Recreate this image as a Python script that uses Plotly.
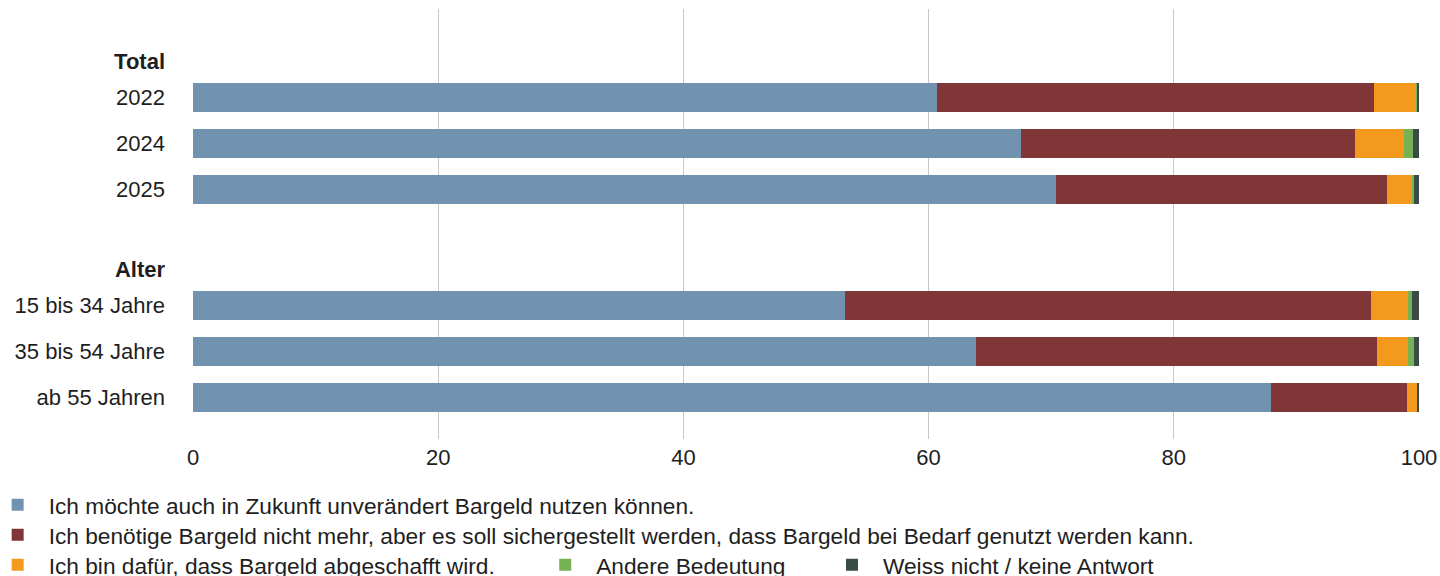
import plotly.graph_objects as go

# Row labels, grouped under bold headers
group_titles = ["Total", "Alter"]
total_rows = ["2022", "2024", "2025"]
age_rows = ["15 bis 34 Jahre", "35 bis 54 Jahre", "ab 55 Jahren"]

# Answer options (legend text)
answers = [
    "Ich möchte auch in Zukunft unverändert Bargeld nutzen können.",
    "Ich benötige Bargeld nicht mehr, aber es soll sichergestellt werden, dass Bargeld bei Bedarf genutzt werden kann.",
    "Ich bin dafür, dass Bargeld abgeschafft wird.",
    "Andere Bedeutung",
    "Weiss nicht / keine Antwort",
]

# Shares in percent, one value per row (2022, 2024, 2025, 15-34, 35-54, 55+)
keep_cash = [60.7, 67.5, 70.4, 53.2, 63.9, 87.9]
ensure_cash = [35.6, 27.3, 27.0, 42.9, 32.7, 11.1]
abolish_cash = [3.5, 4.0, 2.0, 3.0, 2.5, 0.8]
other_meaning = [0.1, 0.7, 0.2, 0.3, 0.5, 0.0]
dont_know = [0.1, 0.5, 0.4, 0.6, 0.4, 0.2]

x_ticks = [0, 20, 40, 60, 80, 100]

colors = ["#7293b0", "#803537", "#f39a1e", "#76b154", "#3b4b45"]
series = [keep_cash, ensure_cash, abolish_cash, other_meaning, dont_know]

# Vertical layout of rows: one unit per bar, headers sit slightly above the
# first bar of their group, groups separated by a wider gap.
HEADER_OFFSET = 0.79
GROUP_GAP = 2.52
row_pos, tick_vals, tick_text = [], [], []
start = 0.0
for title, rows in zip(group_titles, [total_rows, age_rows]):
    tick_vals.append(start - HEADER_OFFSET)
    tick_text.append(f"<b>{title}</b>")
    for i, r in enumerate(rows):
        row_pos.append(start + i)
        tick_vals.append(start + i)
        tick_text.append(r)
    start = row_pos[-1] + GROUP_GAP

TICK_FONT = dict(family="Liberation Sans", size=22, color="#1e1e1e")
LEGEND_FONT = dict(family="Liberation Sans", size=22.7, color="#1e1e1e")

fig = go.Figure()
legend_ids = ["legend", "legend2", "legend3", "legend4", "legend5"]
for name, vals, col, lg in zip(answers, series, colors, legend_ids):
    fig.add_trace(go.Bar(
        y=row_pos, x=vals, name=name, orientation="h",
        marker=dict(color=col, line=dict(width=0)),
        width=0.63, legend=lg,
        hovertemplate="%{x:.1f}%<extra></extra>",
    ))

# Plot area spans pixels 192.5..1419.5 horizontally and 9..439 vertically
W, H = 1440, 576
L, R, T, B = 192.5, 1419.5, 9, 439
pw, ph = R - L, B - T


def px_to_paper(px, py):
    return (px - L) / pw, (B - py) / ph


legend_spots = [(17, 505), (17, 535), (17, 565), (565, 565), (852, 565)]
ITEM_W = 52
legend_layout = {}
for lg, (mx, my) in zip(legend_ids, legend_spots):
    x0, y0 = px_to_paper(mx - (5 + ITEM_W / 2), my)
    legend_layout[lg] = dict(
        x=x0, y=y0, xanchor="left", yanchor="middle",
        orientation="h", font=LEGEND_FONT, itemwidth=ITEM_W,
        bgcolor="rgba(0,0,0,0)", borderwidth=0,
    )

fig.update_layout(
    width=W, height=H,
    barmode="stack",
    bargap=0,
    plot_bgcolor="white", paper_bgcolor="white",
    font=TICK_FONT,
    margin=dict(l=L, r=W - R, t=T, b=H - B, pad=0, autoexpand=False),
    xaxis=dict(
        range=[0, 100], tickvals=x_ticks, ticktext=[str(v) for v in x_ticks],
        showgrid=True, gridcolor="#c8c8c8", gridwidth=1,
        zeroline=False, showline=False, ticks="", ticklabelstandoff=3,
        tickfont=TICK_FONT, fixedrange=True,
    ),
    yaxis=dict(
        range=[(B - 97.5) / 46, (T - 97.5) / 46],
        tickvals=tick_vals, ticktext=tick_text,
        showgrid=False, zeroline=False, showline=False, ticks="",
        ticklabelstandoff=27, tickfont=TICK_FONT, fixedrange=True,
    ),
    showlegend=True,
    **legend_layout,
)

fig.write_html("out.html")
